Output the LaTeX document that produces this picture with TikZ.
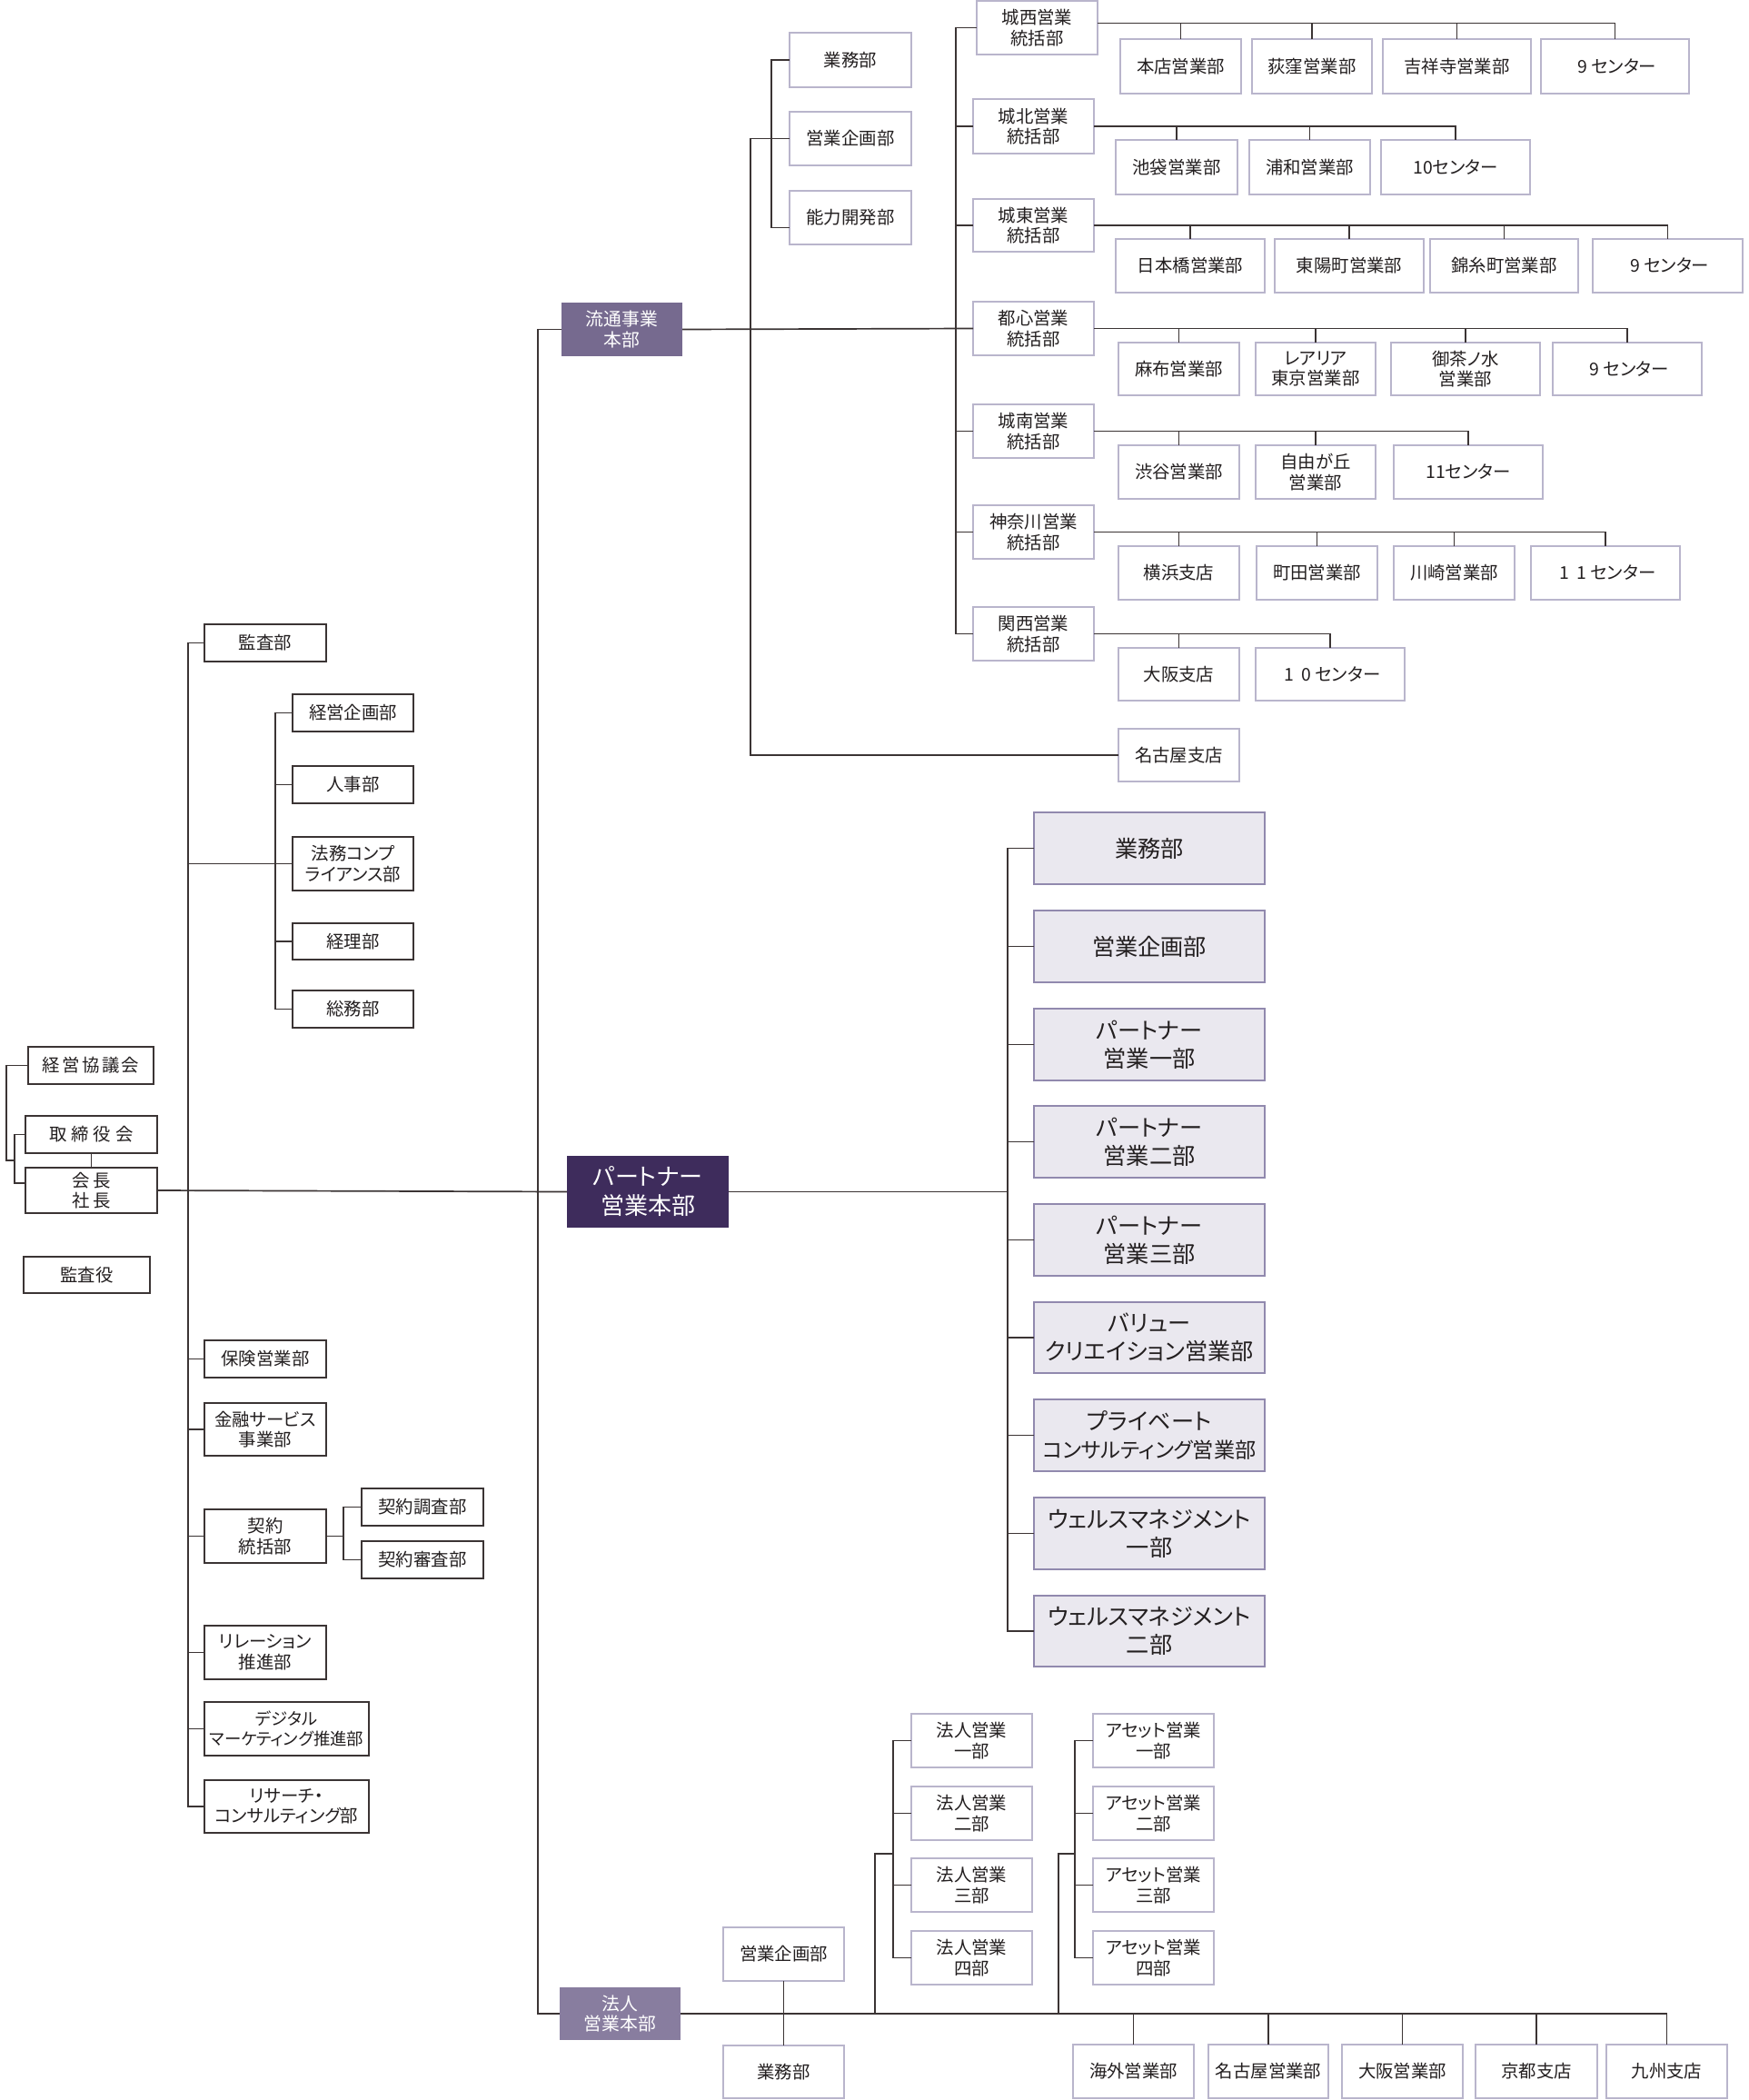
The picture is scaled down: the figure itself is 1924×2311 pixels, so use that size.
\documentclass[tikz,border=0pt]{standalone}
\usepackage{fontspec}
\usepackage{graphicx}
\setmainfont{Noto Sans CJK JP}[RawFeature=+palt]
\usetikzlibrary{calc}
\definecolor{lineC}{HTML}{3B3434}
\definecolor{lightB}{HTML}{B9B5CC}
\definecolor{pF}{HTML}{EAE8EF}
\definecolor{pB}{HTML}{9189AE}
\definecolor{hdrA}{HTML}{766A8F}
\definecolor{hdrB}{HTML}{3E2C5C}
\definecolor{hdrC}{HTML}{887D9F}
\definecolor{textC}{HTML}{231F20}
\newcommand\myfs[2]{\fontsize{#1}{#2}\selectfont}
\newcommand\fw[1]{\makebox[1em]{#1}}
\newcommand\bx[7]{\node[#2, minimum width={(#5-#3)*0.5pt}, minimum height={(#6-#4)*0.5pt}] (#1) at ({(#3+#5)/2},{(#4+#6)/2}) {#7};}
\tikzset{
  base/.style={rectangle, inner sep=0pt, outer sep=0pt, align=center, text=textC, font=\myfs{9.7}{11.2}},
  bl/.style={base, draw=lineC, line width=0.85pt, fill=white},
  br/.style={base, draw=lightB, line width=0.85pt, fill=white},
  bp/.style={base, draw=pB, line width=1pt, fill=pF, font=\myfs{12.6}{15.5}},
  hA/.style={base, draw=none, fill=hdrA, text=white, font=\myfs{9.9}{11.4}},
  hB/.style={base, draw=none, fill=hdrB, text=white, font=\myfs{13}{16}},
  hC/.style={base, draw=none, fill=hdrC, text=white, font=\myfs{9.9}{11.4}},
  ln/.style={draw=lineC, line width=0.85pt}
}
\begin{document}
\begin{tikzpicture}[x=0.5pt,y=-0.5pt]
\useasboundingbox (0,0) rectangle (1924,2311);
% ---------- left side ----------
\bx{kyogi}{bl}{31}{1152}{169}{1193}{経\kern1.2pt 営\kern1.2pt 協\kern1.2pt 議\kern1.2pt 会}
\bx{torishimari}{bl}{28}{1228}{173}{1269}{取\kern2.5pt 締\kern2.5pt 役\kern2.5pt 会}
\bx{kaicho}{bl}{28}{1285}{173}{1335}{会\kern2pt 長\\社\kern2pt 長}
\bx{kansayaku}{bl}{26}{1383}{165}{1423}{監査役}
\bx{kansabu}{bl}{225}{687}{359}{728}{監査部}
\bx{keiei}{bl}{322}{764}{455}{805}{経営企画部}
\bx{jinji}{bl}{322}{843}{455}{884}{人事部}
\bx{houmu}{bl}{322}{921}{455}{980}{法務コンプ\\ライアンス部}
\bx{keiri}{bl}{322}{1016}{455}{1056}{経理部}
\bx{soumu}{bl}{322}{1090}{455}{1131}{総務部}
\bx{hoken}{bl}{225}{1475}{359}{1516}{保険営業部}
\bx{kinyu}{bl}{225}{1544}{359}{1602}{金融サービス\\事業部}
\bx{keiyaku}{bl}{225}{1661}{359}{1720}{契約\\統括部}
\bx{chosa}{bl}{398}{1638}{532}{1679}{契約調査部}
\bx{shinsa}{bl}{398}{1696}{532}{1737}{契約審査部}
\bx{relation}{bl}{225}{1789}{359}{1848}{リレーション\\推進部}
\bx{digital}{bl, font=\myfs{9.2}{11.2}}{225}{1873}{406}{1932}{デジタル\\マーケティング推進部}
\bx{research}{bl}{225}{1959}{406}{2017}{リサーチ・\\コンサルティング部}
% ---------- headquarters ----------
\bx{ryutsu}{hA}{618}{333}{751}{392}{流通事業\\本部}
\bx{partner}{hB}{624}{1272}{802}{1351}{パートナー\\営業本部}
\bx{houjin}{hC}{616}{2187}{749}{2245}{法人\\営業本部}
% ---------- ryutsu ----------
\bx{gyomu}{br}{869}{36}{1003}{96}{業務部}
\bx{kikaku}{br}{869}{123}{1003}{182}{営業企画部}
\bx{nouryoku}{br}{869}{210}{1003}{269}{能力開発部}
\bx{nagoya}{br}{1231}{802}{1364}{860}{名古屋支店}
\bx{jousai}{br}{1075}{1}{1208}{60}{城西営業\\統括部}
\bx{jouhoku}{br}{1071}{109}{1204}{169}{城北営業\\統括部}
\bx{joutou}{br}{1071}{219}{1204}{277}{城東営業\\統括部}
\bx{toshin}{br}{1071}{332}{1204}{391}{都心営業\\統括部}
\bx{jounan}{br}{1071}{445}{1204}{504}{城南営業\\統括部}
\bx{kanagawa}{br}{1071}{556}{1204}{615}{神奈川営業\\統括部}
\bx{kansai}{br}{1071}{668}{1204}{727}{関西営業\\統括部}
% rows
\bx{honten}{br}{1233}{43}{1366}{103}{本店営業部}
\bx{ogikubo}{br}{1378}{43}{1510}{103}{荻窪営業部}
\bx{kichijoji}{br}{1522}{43}{1685}{103}{吉祥寺営業部}
\bx{cA}{br}{1696}{43}{1859}{103}{\fw{9}センター}
\bx{ikebukuro}{br}{1228}{154}{1362}{214}{池袋営業部}
\bx{urawa}{br}{1375}{154}{1508}{214}{浦和営業部}
\bx{cB}{br}{1520}{154}{1684}{214}{10センター}
\bx{nihonbashi}{br}{1228}{263}{1392}{322}{日本橋営業部}
\bx{toyocho}{br}{1403}{263}{1567}{322}{東陽町営業部}
\bx{kinshicho}{br}{1574}{263}{1737}{322}{錦糸町営業部}
\bx{cC}{br}{1753}{263}{1918}{322}{\fw{9}センター}
\bx{azabu}{br}{1231}{377}{1364}{435}{麻布営業部}
\bx{rearia}{br}{1382}{377}{1514}{435}{レアリア\\東京営業部}
\bx{ochanomizu}{br}{1531}{377}{1695}{435}{御茶ノ水\\営業部}
\bx{cD}{br}{1709}{377}{1873}{435}{\fw{9}センター}
\bx{shibuya}{br}{1231}{490}{1364}{549}{渋谷営業部}
\bx{jiyugaoka}{br}{1382}{490}{1514}{549}{自由が丘\\営業部}
\bx{cE}{br}{1534}{490}{1698}{549}{11センター}
\bx{yokohama}{br}{1231}{601}{1364}{660}{横浜支店}
\bx{machida}{br}{1383}{601}{1516}{660}{町田営業部}
\bx{kawasaki}{br}{1534}{601}{1667}{660}{川崎営業部}
\bx{cF}{br}{1685}{601}{1849}{660}{\fw{1}\fw{1}センター}
\bx{osaka}{br}{1231}{713}{1364}{771}{大阪支店}
\bx{cG}{br}{1382}{713}{1546}{771}{\fw{1}\fw{0}センター}
% ---------- partner ----------
\bx{pa}{bp}{1138}{894}{1392}{973}{業務部}
\bx{pb}{bp}{1138}{1002}{1392}{1081}{営業企画部}
\bx{pc}{bp}{1138}{1110}{1392}{1189}{パートナー\\営業一部}
\bx{pd}{bp}{1138}{1217}{1392}{1296}{パートナー\\営業二部}
\bx{pe}{bp}{1138}{1325}{1392}{1404}{パートナー\\営業三部}
\bx{pf}{bp}{1138}{1433}{1392}{1511}{バリュー\\クリエイション営業部}
\bx{pg}{bp}{1138}{1540}{1392}{1619}{プライベート\\{\myfs{11.6}{15.5}コンサルティング営業部}}
\bx{ph}{bp}{1138}{1648}{1392}{1727}{ウェルスマネジメント\\一部}
\bx{pi}{bp}{1138}{1756}{1392}{1834}{ウェルスマネジメント\\二部}
% ---------- houjin ----------
\bx{hkikaku}{br}{796}{2121}{929}{2180}{営業企画部}
\bx{hgyomu}{br}{796}{2251}{929}{2309}{業務部}
\bx{ha}{br}{1003}{1886}{1136}{1945}{法人営業\\一部}
\bx{hb}{br}{1003}{1966}{1136}{2025}{法人営業\\二部}
\bx{hc}{br}{1003}{2045}{1136}{2104}{法人営業\\三部}
\bx{hd}{br}{1003}{2125}{1136}{2184}{法人営業\\四部}
\bx{aa}{br}{1203}{1886}{1336}{1945}{アセット営業\\一部}
\bx{ab}{br}{1203}{1966}{1336}{2025}{アセット営業\\二部}
\bx{ac}{br}{1203}{2045}{1336}{2104}{アセット営業\\三部}
\bx{ad}{br}{1203}{2125}{1336}{2184}{アセット営業\\四部}
\bx{kaigai}{br}{1181}{2250}{1314}{2309}{海外営業部}
\bx{hnagoya}{br}{1330}{2250}{1462}{2309}{名古屋営業部}
\bx{hosaka}{br}{1477}{2250}{1610}{2309}{大阪営業部}
\bx{kyoto}{br}{1624}{2250}{1758}{2309}{京都支店}
\bx{kyushu}{br}{1768}{2250}{1901}{2309}{九州支店}
% ---------- coordinates ----------
\coordinate (xA) at (7,0);
\coordinate (xB) at (16,0);
\coordinate (yAB) at (0,1277);
\coordinate (T1) at (207,0);
\coordinate (T2) at (303,0);
\coordinate (T3) at (378,0);
\coordinate (M) at (592,0);
\coordinate (R1) at (826,0);
\coordinate (R2) at (849,0);
\coordinate (R3) at (1052,0);
\coordinate (P) at (1109,0);
\coordinate (H1) at (963,0);
\coordinate (H2) at (983,0);
\coordinate (A1) at (1165,0);
\coordinate (A2) at (1183,0);
\coordinate (yH) at (0,2040);
\coordinate (kcW) at ([yshift=4pt]kaicho.west);
\coordinate (nrW) at ([yshift=-5.5pt]nouryoku.west);
\coordinate (jsE) at ([yshift=2.5pt]jousai.east);
% ---------- connectors ----------
\begin{scope}[ln]
% top-left bodies
\draw (kyogi.west) -- (kyogi.west -| xA) -- (xA |- yAB) -- (xB |- yAB);
\draw (torishimari.west) -- (torishimari.west -| xB) -- (xB |- kcW) -- (kcW);
\draw (torishimari.south) -- (kaicho.north);
\draw (kaicho.east) -- (partner.west);
% left trunk
\draw (kansabu.west) -- (kansabu.west -| T1) -- (T1 |- research.west) -- (research.west);
\foreach \n in {hoken,kinyu,keiyaku,relation,digital} \draw (\n.west) -- (\n.west -| T1);
\draw (houmu.west) -- (houmu.west -| T1);
\draw (keiei.west) -- (keiei.west -| T2) -- (T2 |- soumu.west) -- (soumu.west);
\foreach \n in {jinji,keiri} \draw (\n.west) -- (\n.west -| T2);
\draw (keiyaku.east) -- (keiyaku.east -| T3);
\draw (chosa.west) -- (chosa.west -| T3) -- (T3 |- shinsa.west) -- (shinsa.west);
% main trunk
\draw (ryutsu.west) -- (ryutsu.west -| M) -- (M |- houjin.west) -- (houjin.west);
\draw (ryutsu.east) -- (toshin.west);
\draw (kikaku.west) -- (kikaku.west -| R1) -- (R1 |- nagoya.west) -- (nagoya.west);
\draw (gyomu.west) -- (gyomu.west -| R2) -- (R2 |- nrW) -- (nrW);
\draw (jousai.west) -- (jousai.west -| R3) -- (R3 |- kansai.west) -- (kansai.west);
\foreach \n in {jouhoku,joutou,jounan,kanagawa} \draw (\n.west) -- (\n.west -| R3);
% rows
\draw (jsE) -| (cA.north);
\foreach \n in {honten,ogikubo,kichijoji} \draw (\n.north) -- (\n.north |- jsE);
\draw (jouhoku.east) -| (cB.north);
\foreach \n in {ikebukuro,urawa} \draw (\n.north) -- (\n.north |- jouhoku.east);
\draw (joutou.east) -| (cC.north);
\foreach \n in {nihonbashi,toyocho,kinshicho} \draw (\n.north) -- (\n.north |- joutou.east);
\draw (toshin.east) -| (cD.north);
\foreach \n in {azabu,rearia,ochanomizu} \draw (\n.north) -- (\n.north |- toshin.east);
\draw (jounan.east) -| (cE.north);
\foreach \n in {shibuya,jiyugaoka} \draw (\n.north) -- (\n.north |- jounan.east);
\draw (kanagawa.east) -| (cF.north);
\foreach \n in {yokohama,machida,kawasaki} \draw (\n.north) -- (\n.north |- kanagawa.east);
\draw (kansai.east) -| (cG.north);
\draw (osaka.north) -- (osaka.north |- kansai.east);
% partner
\draw (partner.east) -- (partner.east -| P);
\draw (pa.west) -- (pa.west -| P) -- (P |- pi.west) -- (pi.west);
\foreach \n in {pb,pc,pd,pe,pf,pg,ph} \draw (\n.west) -- (\n.west -| P);
% houjin
\draw (houjin.east) -| (kyushu.north);
\foreach \n in {kaigai,hnagoya,hosaka,kyoto} \draw (\n.north) -- (\n.north |- houjin.east);
\draw (hkikaku.south) -- (hgyomu.north);
\draw (H1 |- houjin.east) -- (H1 |- yH) -- (H2 |- yH);
\draw (ha.west) -- (ha.west -| H2) -- (H2 |- hd.west) -- (hd.west);
\foreach \n in {hb,hc} \draw (\n.west) -- (\n.west -| H2);
\draw (A1 |- houjin.east) -- (A1 |- yH) -- (A2 |- yH);
\draw (aa.west) -- (aa.west -| A2) -- (A2 |- ad.west) -- (ad.west);
\foreach \n in {ab,ac} \draw (\n.west) -- (\n.west -| A2);
\end{scope}
\end{tikzpicture}
\end{document}
